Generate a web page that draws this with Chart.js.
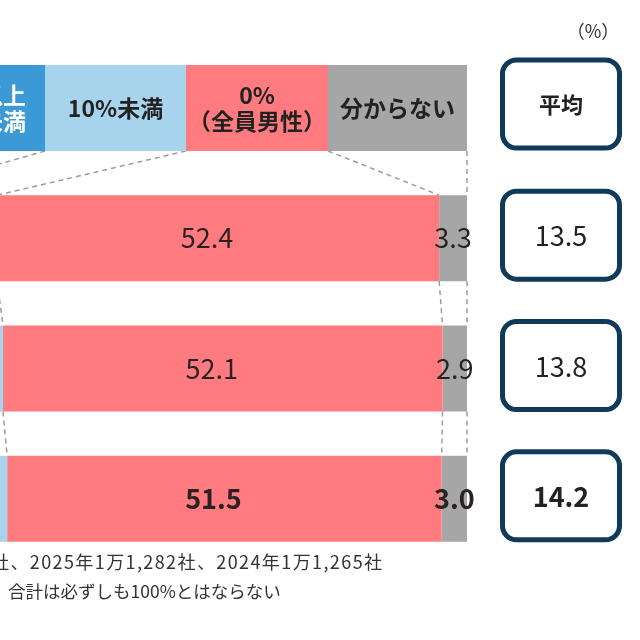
<!DOCTYPE html>
<html lang="ja">
<head>
<meta charset="utf-8">
<script src="https://cdn.jsdelivr.net/npm/chart.js@4.4.1/dist/chart.umd.min.js"></script>
<style>
  body { margin: 0; background: #fff; }
  #wrap { width: 640px; height: 640px; position: relative; }
</style>
</head>
<body>
<div id="wrap"><canvas id="chart"></canvas></div>
<script>
// 女性比率の分布（％）: 上から2024年、2025年、2026年
const years = ['2024年', '2025年', '2026年'];
const upperShare = [31.6, 32.0, 32.2];   // 10%以上（画面の外）
const underTen = [12.7, 13.0, 13.3];     // 10%未満
const allMale = [52.4, 52.1, 51.5];      // 0%（全員男性）
const unknown = [3.3, 2.9, 3.0];         // 分からない
const averages = [13.5, 13.8, 14.2];     // 平均
const legendNames = [['10%以上', '20%未満'], ['10%未満'], ['0%', '（全員男性）'], ['分からない']];
const notes = ['社、2025年1万1,282社、2024年1万1,265社', '合計は必ずしも100%とはならない'];

const FONT = '"Noto Sans CJK JP", "Noto Sans", sans-serif';
const colors = ['#3b9ad5', '#a7d3ec', '#ff7b80', '#a6a6a6'];

// 凡例ボックスの区切り位置
const legendEdges = [-120, 45, 186, 328, 467];
const legendTop = 65, legendBottom = 151;

const overlay = {
    id: 'overlay',
    afterDatasetsDraw(chart) {
        const ctx = chart.ctx;
        const metas = chart.data.datasets.map((d, i) => chart.getDatasetMeta(i));
        const bar = (d, i) => metas[d].data[i].getProps(['x', 'base', 'y', 'height'], true);

        // 各バーの区切り（10%未満の左端 → 分からないの右端）
        const edges = i => [bar(1, i).base, bar(2, i).base, bar(3, i).base, bar(3, i).x];

        ctx.save();
        ctx.strokeStyle = '#9c9c9c';
        ctx.lineWidth = 1.5;
        ctx.setLineDash([5, 4]);
        const b0 = bar(0, 0);
        edges(0).forEach((x, k) => {
            ctx.beginPath();
            ctx.moveTo(legendEdges[k + 1], legendBottom);
            ctx.lineTo(x, b0.y - b0.height / 2);
            ctx.stroke();
        });
        for (let i = 0; i < years.length - 1; i++) {
            const a = bar(0, i), b = bar(0, i + 1);
            const e1 = edges(i), e2 = edges(i + 1);
            e1.forEach((x, k) => {
                ctx.beginPath();
                ctx.moveTo(x, a.y + a.height / 2);
                ctx.lineTo(e2[k], b.y - b.height / 2);
                ctx.stroke();
            });
        }
        ctx.restore();

        // バーの数値
        ctx.save();
        ctx.fillStyle = '#2a2222';
        ctx.textAlign = 'center';
        ctx.textBaseline = 'middle';
        for (let i = 0; i < years.length; i++) {
            const weight = i === years.length - 1 ? 'bold ' : '';
            ctx.font = weight + '27px ' + FONT;
            const p = bar(2, i), g = bar(3, i);
            ctx.fillText(allMale[i].toFixed(1), (p.base + p.x) / 2 - 11, p.y);
            ctx.fillText(unknown[i].toFixed(1), (g.base + g.x) / 2, g.y);
        }
        ctx.restore();
    },
    afterDraw(chart) {
        const ctx = chart.ctx;
        ctx.save();

        // 単位
        ctx.fillStyle = '#333';
        ctx.font = '18px ' + FONT;
        ctx.textAlign = 'center';
        ctx.textBaseline = 'middle';
        ctx.fillText('（%）', 593, 31);

        // 凡例
        for (let k = 0; k < legendNames.length; k++) {
            const x0 = legendEdges[k], x1 = legendEdges[k + 1];
            ctx.fillStyle = colors[k];
            ctx.fillRect(x0, legendTop, x1 - x0, legendBottom - legendTop);
            ctx.font = 'bold 23px ' + FONT;
            ctx.fillStyle = k === 0 ? '#fff' : '#222';
            const lines = legendNames[k];
            const cy = (legendTop + legendBottom) / 2;
            lines.forEach((t, j) => {
                const y = cy + (j - (lines.length - 1) / 2) * 26;
                if (k === 0) {
                    ctx.textAlign = 'right';
                    ctx.fillText(t, x1 - 19, y);
                } else {
                    ctx.textAlign = 'center';
                    ctx.fillText(t, (x0 + x1) / 2, y);
                }
            });
        }

        // 平均ボックス
        const box = (cy, text, font) => {
            ctx.beginPath();
            ctx.roundRect(502.5, cy - 44, 117, 88, 14);
            ctx.fillStyle = '#fff';
            ctx.fill();
            ctx.lineWidth = 5;
            ctx.strokeStyle = '#0f3a5a';
            ctx.stroke();
            ctx.fillStyle = '#222';
            ctx.font = font;
            ctx.textAlign = 'center';
            ctx.fillText(text, 561, cy + 1);
        };
        box(104, '平均', 'bold 22px ' + FONT);
        const meta = chart.getDatasetMeta(0);
        averages.forEach((v, i) => {
            const y = meta.data[i].getProps(['y'], true).y;
            const bold = i === averages.length - 1 ? 'bold ' : '';
            box(y - 3, v.toFixed(1), bold + '27px ' + FONT);
        });

        // 注記
        ctx.fillStyle = '#333';
        ctx.textAlign = 'left';
        ctx.font = '18px ' + FONT;
        ctx.letterSpacing = '1.4px';
        ctx.fillText(notes[0], -9, 562);
        ctx.letterSpacing = '0px';
        ctx.font = '17.5px ' + FONT;
        ctx.fillText(notes[1], 8, 591);
        ctx.restore();
    }
};

const ctx = document.getElementById('chart').getContext('2d');
const chart = new Chart(ctx, {
    type: 'bar',
    data: {
        labels: years,
        datasets: [
            { label: '10%以上', data: upperShare, backgroundColor: colors[0] },
            { label: '10%未満', data: underTen, backgroundColor: colors[1] },
            { label: '0%（全員男性）', data: allMale, backgroundColor: colors[2] },
            { label: '分からない', data: unknown, backgroundColor: colors[3] }
        ]
    },
    options: {
        indexAxis: 'y',
        responsive: true,
        maintainAspectRatio: false,
        animation: false,
        layout: { padding: { left: 0, right: 173, top: 173, bottom: 76 } },
        datasets: { bar: { categoryPercentage: 1, barPercentage: 0.66, borderWidth: 0 } },
        scales: {
            x: { stacked: true, min: 44.65, max: 100, display: false },
            y: { stacked: true, display: false }
        },
        plugins: {
            legend: { display: false },
            tooltip: { enabled: false }
        }
    },
    plugins: [overlay]
});
</script>
</body>
</html>
